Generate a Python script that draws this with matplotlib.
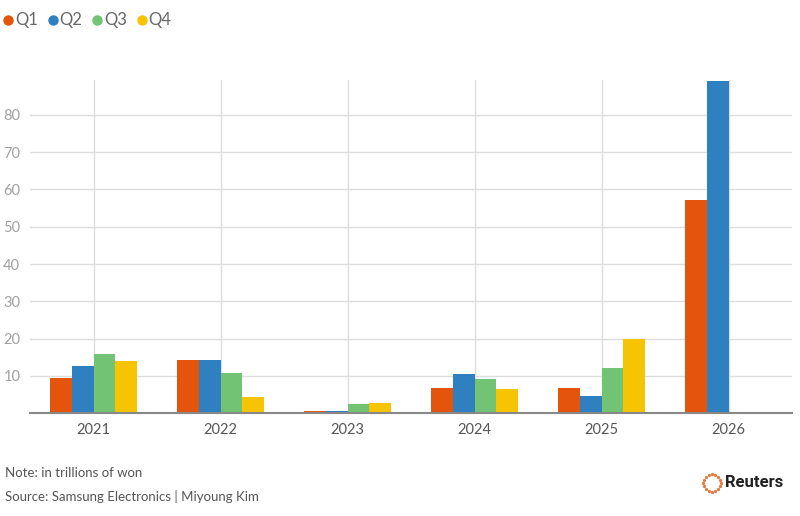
import numpy as np
import matplotlib
matplotlib.use("Agg")
import matplotlib.pyplot as plt
from matplotlib.lines import Line2D

# Samsung Electronics quarterly operating profit, trillions of won
years = ["2021", "2022", "2023", "2024", "2025", "2026"]
quarters = ["Q1", "Q2", "Q3", "Q4"]
q1 = [9.38, 14.12, 0.64, 6.61, 6.69, 57.2]
q2 = [12.57, 14.10, 0.67, 10.44, 4.68, 89.2]
q3 = [15.82, 10.85, 2.43, 9.18, 12.17, np.nan]
q4 = [13.87, 4.31, 2.82, 6.49, 20.0, np.nan]
yticks = [10, 20, 30, 40, 50, 60, 70, 80]

colors = ["#e5540c", "#2f80c1", "#73c375", "#f6c402"]

plt.rcParams["font.family"] = ["Lato", "DejaVu Sans"]

fig = plt.figure(figsize=(8, 5.16), dpi=100)
ax = fig.add_axes([0.0375, 0.1996, 0.9525, 0.6454])

x = np.arange(len(years))
w = 0.173
for i, vals in enumerate([q1, q2, q3, q4]):
    ax.bar(x + (i - 1.5) * w, vals, width=w, color=colors[i], zorder=3)

ax.set_xlim(-0.5, len(years) - 0.5)
ax.set_ylim(0, 89.4)
ax.set_xticks(x)
ax.set_xticklabels(years, fontsize=10.5, color="#555555")
ax.set_yticks(yticks)
ax.set_yticklabels([str(t) for t in yticks], fontsize=10.5, color="#a0a0a0")
ax.tick_params(axis="both", length=0)
ax.tick_params(axis="y", pad=7)
ax.tick_params(axis="x", pad=7)
ax.grid(True, color="#dddddd", linewidth=1, zorder=0)
for s in ["top", "right", "left"]:
    ax.spines[s].set_visible(False)
ax.spines["bottom"].set_color("#888888")
ax.spines["bottom"].set_linewidth(1.5)
ax.spines["bottom"].set_zorder(4)

handles = [Line2D([], [], marker="o", linestyle="none", markersize=6.5,
                  color=c) for c in colors]
fig.legend(handles, quarters, loc="upper left", bbox_to_anchor=(-0.019, 1.005),
           ncol=4, frameon=False, handletextpad=-0.1, columnspacing=0.4,
           handlelength=1.0, fontsize=12, labelcolor="#666666")

fig.text(0.006, 0.083, "Note: in trillions of won", fontsize=9.5,
         color="#555555", va="center")
fig.text(0.006, 0.037, "Source: Samsung Electronics | Miyoung Kim",
         fontsize=9.5, color="#555555", va="center")

# Reuters logo
ang = np.linspace(0, 2 * np.pi, 16, endpoint=False)
lx = 712 / 800 + 0.0112 * np.cos(ang)
ly = 1 - 483 / 516 + 0.0174 * np.sin(ang)
fig.add_artist(Line2D(lx, ly, marker="o", linestyle="none", markersize=1.3,
                      color="#e5783a", transform=fig.transFigure))
fig.text(0.906, 0.064, "Reuters", fontsize=12, fontweight="bold",
         color="#222222", family=["Roboto", "DejaVu Sans"], va="center")

fig.savefig("out.png", dpi=100)
